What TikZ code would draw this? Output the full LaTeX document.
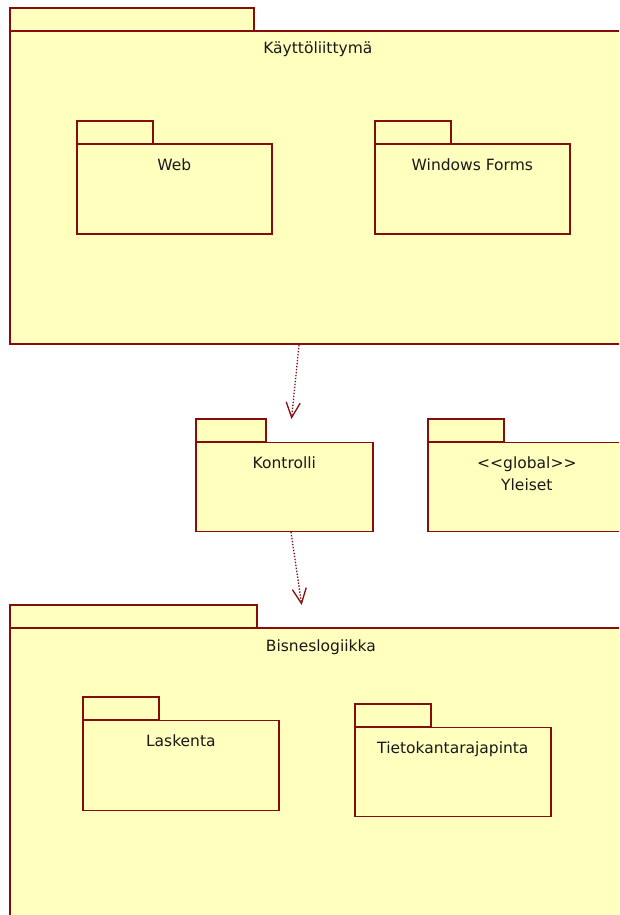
\documentclass[tikz,border=0pt]{standalone}
\usepackage{fontspec}
\setmainfont{DejaVu Sans}
\usetikzlibrary{arrows.meta}
\definecolor{pkgline}{RGB}{135,12,12}
\definecolor{pkgfill}{RGB}{255,255,190}
\newcommand\pkgfont{\fontsize{15.5}{21.7}\selectfont}
\tikzset{
  pkg/.style={draw=pkgline, fill=pkgfill, line width=1.7pt, rectangle,
    inner sep=0pt, anchor=north west},
  tabbox/.style={pkg, minimum width=#1, minimum height=23pt},
  pkglabel/.style={font=\pkgfont, text=black!90, anchor=base, align=center, inner sep=0pt},
  dep/.style={draw=pkgline, line width=1.3pt, dash pattern=on 1.4pt off 1.6pt,
    -{Straight Barb[length=15pt,width=14pt,line width=1.3pt]}}
}
\begin{document}
\begin{tikzpicture}[x=1pt,y=-1pt]
  \useasboundingbox (0,0) rectangle (619,915);
  \clip (0,0) rectangle (619,915);

  % user interface package
  \node[tabbox=244pt] (uitab) at (9,7) {};
  \node[pkg, minimum width=616pt, minimum height=313pt] (ui) at (9,30) {};
  \node[pkglabel] (uilbl) at ([yshift=-24pt]ui.north) {Käyttöliittymä};

  \node[tabbox=76pt] (webtab) at (76,120) {};
  \node[pkg, minimum width=195pt, minimum height=90pt] (web) at (76,143) {};
  \node[pkglabel] (weblbl) at ([yshift=-27pt]web.north) {Web};

  \node[tabbox=76pt] (wftab) at (374,120) {};
  \node[pkg, minimum width=195pt, minimum height=90pt] (wf) at (374,143) {};
  \node[pkglabel] (wflbl) at ([yshift=-27pt]wf.north) {Windows Forms};

  % control and common packages
  \node[tabbox=70pt] (kontab) at (195,418) {};
  \node[pkg, minimum width=177pt, minimum height=89pt] (kon) at (195,441.5) {};
  \node[pkglabel] (konlbl) at ([yshift=-27pt]kon.north) {Kontrolli};

  \node[tabbox=76pt] (ylotab) at (427,418) {};
  \node[pkg, minimum width=198pt, minimum height=89pt] (ylo) at (427,441.5) {};
  % the base of a two-line node sits on its last line
  \node[pkglabel] (ylolbl) at ([yshift=-48.5pt]ylo.north) {<{}<global>{}>\\Yleiset};

  % business logic package
  \node[tabbox=247pt] (bltab) at (9,604) {};
  \node[pkg, minimum width=622pt, minimum height=320pt] (bl) at (9,627) {};
  \node[pkglabel] (bllbl) at ([yshift=-24pt]bl.north) {Bisneslogiikka};

  \node[tabbox=76pt] (lastab) at (82,696) {};
  \node[pkg, minimum width=196pt, minimum height=90pt] (las) at (82,719.5) {};
  \node[pkglabel] (laslbl) at ([yshift=-27pt]las.north) {Laskenta};

  \node[tabbox=76pt] (dbtab) at (354,703) {};
  \node[pkg, minimum width=196pt, minimum height=89pt] (db) at (354,726.5) {};
  \node[pkglabel] (dblbl) at ([yshift=-27pt]db.north) {Tietokantarajapinta};

  % dependencies
  \coordinate (d1s) at (299,345);
  \coordinate (d1e) at (291.5,419);
  \coordinate (d2s) at (291,532);
  \coordinate (d2e) at (301.7,605);
  \draw[dep] (d1s) -- (d1e);
  \draw[dep] (d2s) -- (d2e);
\end{tikzpicture}
\end{document}
